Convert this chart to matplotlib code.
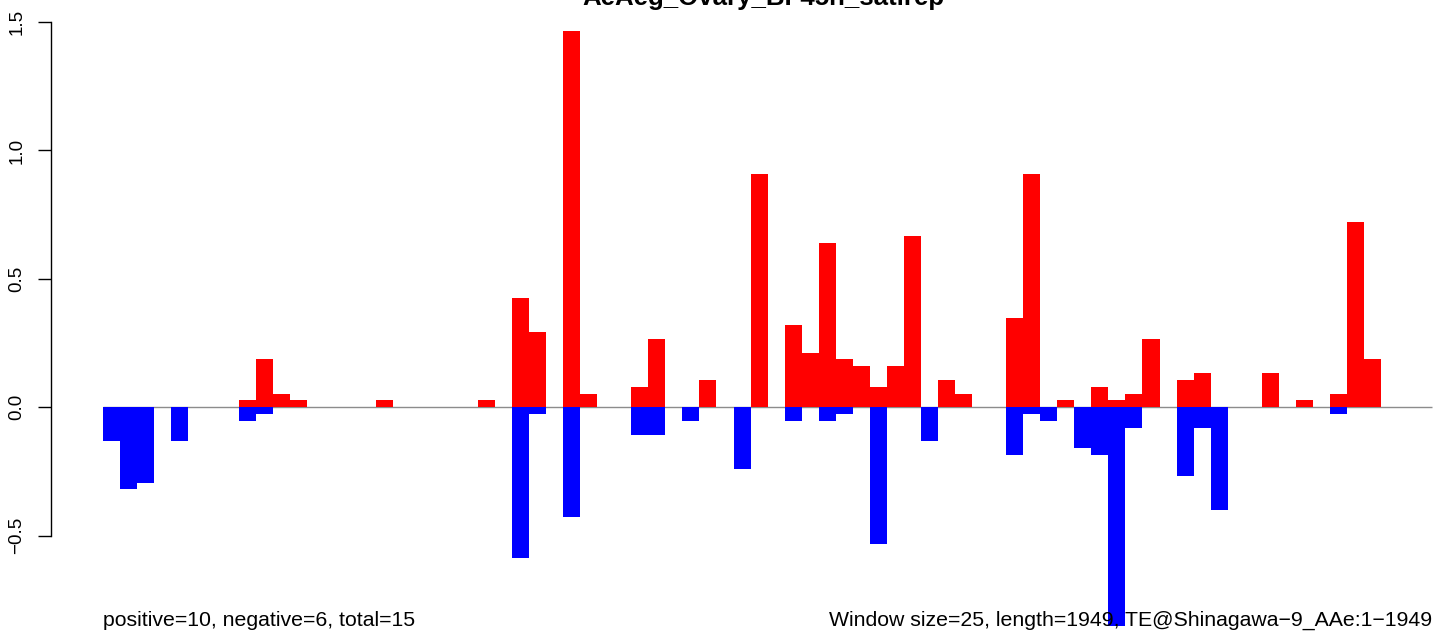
import matplotlib.pyplot as plt
import numpy as np

plt.switch_backend("Agg")
plt.rcParams["font.family"] = ["Liberation Sans", "DejaVu Sans"]

title = "AeAeg_Ovary_BF45h_satirep"
left_note = "positive=10, negative=6, total=15"
right_note = "Window size=25, length=1949, TE@Shinagawa\u22129_AAe:1\u22121949"
n_windows = 78

# windows with positive signal (red) and their heights
pos_idx = [8, 9, 10, 11, 16, 22, 24, 25, 27, 28, 31, 32, 35, 38, 40, 41, 42,
           43, 44, 45, 46, 47, 49, 50, 53, 54, 56, 58, 59, 60, 61, 63, 64, 68,
           70, 72, 73, 74]
pos_val = [0.027, 0.187, 0.053, 0.027, 0.027, 0.027, 0.427, 0.293, 1.467,
           0.053, 0.08, 0.267, 0.107, 0.907, 0.32, 0.213, 0.64, 0.187, 0.16,
           0.08, 0.16, 0.667, 0.107, 0.053, 0.347, 0.907, 0.027, 0.08, 0.027,
           0.053, 0.267, 0.107, 0.133, 0.133, 0.027, 0.053, 0.72, 0.187]

# windows with negative signal (blue)
neg_idx = [0, 1, 2, 4, 8, 9, 24, 25, 27, 31, 32, 34, 37, 40, 42, 43, 45, 48,
           53, 54, 55, 57, 58, 59, 60, 63, 64, 65, 72]
neg_val = [-0.133, -0.32, -0.293, -0.133, -0.053, -0.027, -0.587, -0.027,
           -0.427, -0.107, -0.107, -0.053, -0.24, -0.053, -0.053, -0.027,
           -0.533, -0.133, -0.187, -0.027, -0.053, -0.16, -0.187, -0.853,
           -0.08, -0.267, -0.08, -0.4, -0.027]

yticks = [-0.5, 0.0, 0.5, 1.0, 1.5]
ytick_labels = ["\u22120.5", "0.0", "0.5", "1.0", "1.5"]

W, H = 1433, 634
fig = plt.figure(figsize=(W / 100, H / 100), dpi=100)
ax = fig.add_axes([50.7 / W, 0.0, 1 - 50.7 / W, 1.0])

ax.hlines(0, 0, n_windows, color="#8c8c8c", linewidth=1.0, zorder=1)
ax.bar(pos_idx, pos_val, width=1.0, align="edge", color="#ff0000",
       linewidth=0, zorder=2)
ax.bar(neg_idx, neg_val, width=1.0, align="edge", color="#0000ff",
       linewidth=0, zorder=2)

ax.set_xlim(-3.07, 78.05)
ax.set_ylim(-0.8828, 1.586)

for side in ("top", "right", "bottom"):
    ax.spines[side].set_visible(False)
ax.spines["left"].set_bounds(-0.5, 1.5)
ax.spines["left"].set_linewidth(1.0)
ax.set_xticks([])
ax.set_yticks(yticks)
ax.set_yticklabels(ytick_labels, rotation=90, va="center")
ax.tick_params(axis="y", length=9.4, width=1.0, pad=9, labelsize=13.5)

# the title sits mostly above the visible area, as in the source image
fig.text(763 / W, 1 - 5 / H, title, ha="center", va="baseline",
         fontsize=18.6, fontweight="bold")
fig.text(103 / W, 1 - 626 / H, left_note, ha="left", va="baseline",
         fontsize=15.3)
fig.text(1432 / W, 1 - 626 / H, right_note, ha="right", va="baseline",
         fontsize=15.3)

fig.savefig("out.png", dpi=100)
plt.close(fig)
